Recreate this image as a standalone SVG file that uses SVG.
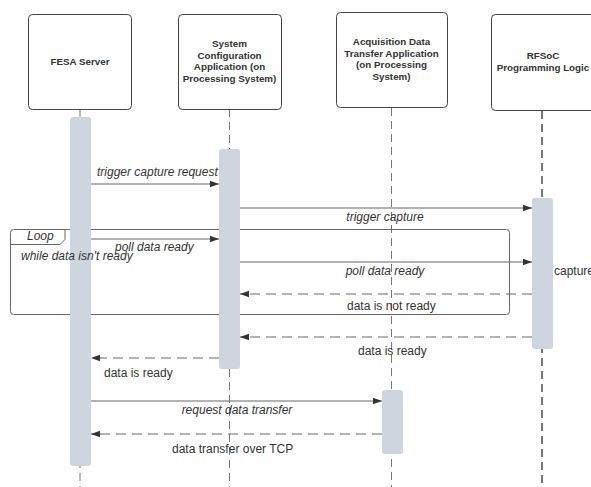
<svg xmlns="http://www.w3.org/2000/svg" width="591" height="487" viewBox="0 0 591 487">
<style>
.box{fill:#fff;stroke:#444;stroke-width:1}
.title{font-family:"Liberation Sans",Arial,sans-serif;font-size:9.8px;font-weight:bold;fill:#333;text-anchor:middle}
.life{stroke:#777;stroke-width:1;stroke-dasharray:8 5;fill:none}
.life2{stroke:#222;stroke-width:1.2;stroke-dasharray:8 5;fill:none}
.act{fill:#ced5de;stroke:none}
.msg{stroke:#666;stroke-width:1;fill:none}
.ret{stroke:#666;stroke-width:1;fill:none;stroke-dasharray:10 6}
.lbl{font-family:"Liberation Sans",Arial,sans-serif;font-size:12px;fill:#333}
.it{font-style:italic}
.frame{fill:none;stroke:#666;stroke-width:1}
</style>
<defs>
<marker id="ah" markerWidth="10" markerHeight="8" refX="9" refY="4" orient="auto" markerUnits="userSpaceOnUse">
<path d="M0,0.8 L9,4 L0,7.2 Z" fill="#333"/>
</marker>
</defs>
<rect width="591" height="487" fill="#fff"/>

<g id="lifelines">
<line class="life" x1="80" y1="109" x2="80" y2="487"/>
<line class="life" x1="229.5" y1="109" x2="229.5" y2="487"/>
<line class="life" x1="391.5" y1="108" x2="391.5" y2="487"/>
<line class="life2" x1="542" y1="111" x2="542" y2="487"/>
</g>

<g id="loop-frame">
<rect class="frame" x="10.5" y="229.5" width="499" height="85" rx="3"/>
<path class="frame" d="M10.5,244.5 H60 L65,239.5 V229.5"/>
</g>

<g id="fesa">
<rect class="box" x="28.5" y="14.5" width="103" height="95" rx="4"/>
<text class="title" x="80" y="65">FESA Server</text>
<rect class="act" x="70" y="117" width="21" height="349" rx="3"/>
</g>
<g id="sysconf">
<rect class="box" x="178.5" y="14.5" width="103" height="95" rx="4"/>
<text class="title" x="229.5" y="47">System</text>
<text class="title" x="229.5" y="58.5">Configuration</text>
<text class="title" x="229.5" y="70">Application (on</text>
<text class="title" x="229.5" y="81.5">Processing System)</text>
<rect class="act" x="219" y="149" width="21" height="220" rx="3"/>
</g>
<g id="acq">
<rect class="box" x="336.5" y="12.5" width="111" height="95" rx="4"/>
<text class="title" x="391.5" y="45">Acquisition Data</text>
<text class="title" x="391.5" y="56.5">Transfer Application</text>
<text class="title" x="391.5" y="68">(on Processing</text>
<text class="title" x="391.5" y="79.5">System)</text>
<rect class="act" x="382" y="390" width="21" height="64" rx="3"/>
</g>
<g id="rfsoc">
<rect class="box" x="491.5" y="14.5" width="110" height="96" rx="4"/>
<text class="title" x="543" y="59">RFSoC</text>
<text class="title" x="543" y="70.5">Programming Logic</text>
<rect class="act" x="532" y="198" width="21" height="151" rx="3"/>
<text class="lbl" x="554" y="275">capture</text>
</g>

<g id="loop-labels">
<text class="lbl it" x="27" y="240" font-size="10">Loop</text>
<text class="lbl it" x="21" y="260" font-size="9.5">while data isn't ready</text>
</g>

<g id="connectors">
<line class="msg" x1="91" y1="184" x2="219" y2="184" marker-end="url(#ah)"/>
<text class="lbl it" x="97" y="176">trigger capture request</text>

<line class="msg" x1="240" y1="208" x2="532" y2="208" marker-end="url(#ah)"/>
<text class="lbl it" x="385" y="221" text-anchor="middle">trigger capture</text>

<line class="msg" x1="91" y1="239" x2="219" y2="239" marker-end="url(#ah)"/>
<text class="lbl it" x="115" y="251">poll data ready</text>

<line class="msg" x1="240" y1="262" x2="532" y2="262" marker-end="url(#ah)"/>
<text class="lbl it" x="385" y="275" text-anchor="middle">poll data ready</text>

<line class="ret" x1="532" y1="294" x2="240" y2="294" marker-end="url(#ah)"/>
<text class="lbl" x="347" y="310">data is not ready</text>

<line class="ret" x1="532" y1="337" x2="240" y2="337" marker-end="url(#ah)"/>
<text class="lbl" x="358" y="355">data is ready</text>

<line class="ret" x1="219" y1="358" x2="91" y2="358" marker-end="url(#ah)"/>
<text class="lbl" x="104" y="377">data is ready</text>

<line class="msg" x1="91" y1="401" x2="382" y2="401" marker-end="url(#ah)"/>
<text class="lbl it" x="237" y="414" text-anchor="middle">request data transfer</text>

<line class="ret" x1="382" y1="434" x2="91" y2="434" marker-end="url(#ah)"/>
<text class="lbl" x="172" y="453">data transfer over TCP</text>
</g>
</svg>
